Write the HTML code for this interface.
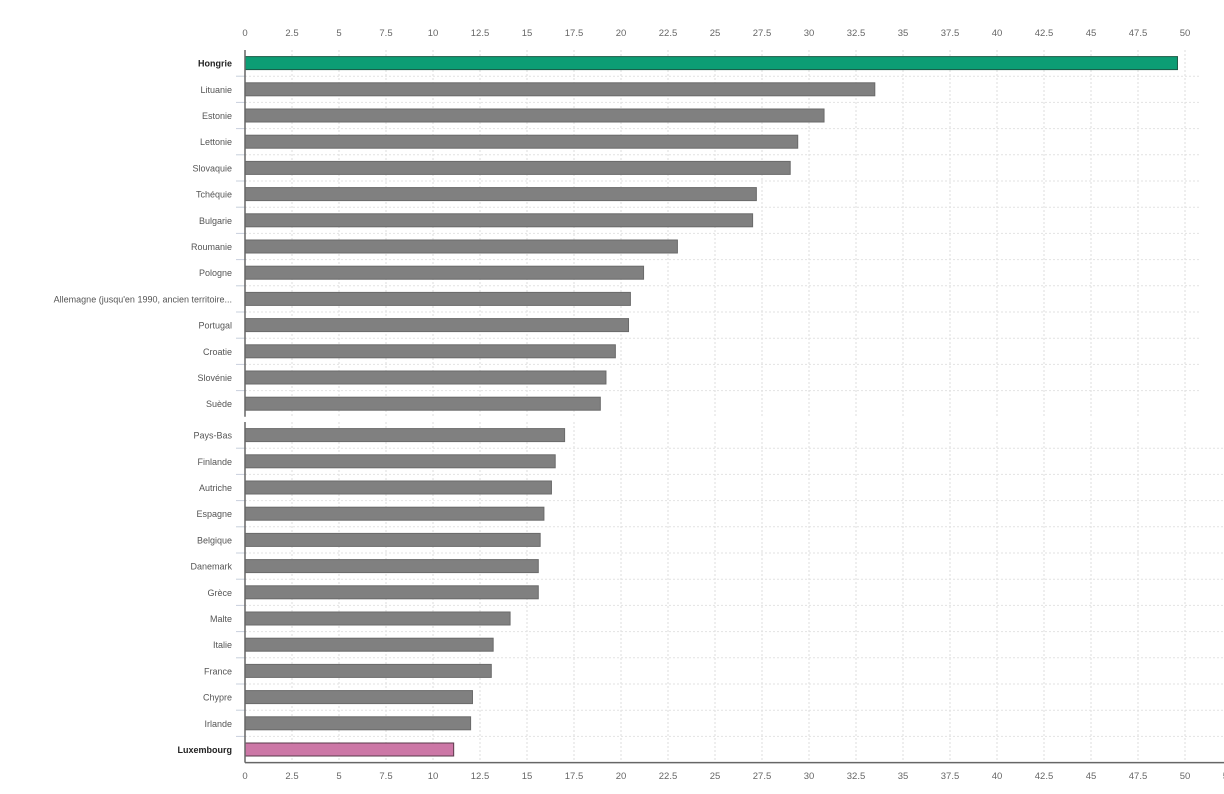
<!DOCTYPE html><html><head><meta charset="utf-8"><style>body{margin:0;background:#fff}svg{display:block;font-family:"Liberation Sans",sans-serif}</style></head><body>
<svg width="1224" height="794" xmlns="http://www.w3.org/2000/svg" id="s"></svg>
<script>
(function(){
var s=document.getElementById('s');var h='';
function X(v){return 245+v*18.8;}
var rowsA=[["Hongrie",49.6],["Lituanie",33.5],["Estonie",30.8],["Lettonie",29.4],["Slovaquie",29.0],["Tchéquie",27.2],["Bulgarie",27.0],["Roumanie",23.0],["Pologne",21.2],["Allemagne (jusqu'en 1990, ancien territoire...",20.5],["Portugal",20.4],["Croatie",19.7],["Slovénie",19.2],["Suède",18.9]];
var rowsB=[["Pays-Bas",17.0],["Finlande",16.5],["Autriche",16.3],["Espagne",15.9],["Belgique",15.7],["Danemark",15.6],["Grèce",15.6],["Malte",14.1],["Italie",13.2],["France",13.1],["Chypre",12.1],["Irlande",12.0],["Luxembourg",11.1]];
function panel(rows,y0,xr,maxT){var bh=26.2,y1=y0+rows.length*bh;
for(var t=0;t<=maxT;t+=2.5){var x=X(t);if(x<=xr)h+='<line x1="'+x+'" y1="'+y0+'" x2="'+x+'" y2="'+y1+'" stroke="#ddd" stroke-dasharray="2,2"/>';}
rows.forEach(function(r,i){var yb=y0+(i+1)*bh;if(i<rows.length-1)h+='<line x1="245" y1="'+yb+'" x2="'+xr+'" y2="'+yb+'" stroke="#e2e2e2" stroke-dasharray="2,2"/><line x1="236" y1="'+yb+'" x2="245" y2="'+yb+'" stroke="#c8d0dc"/>';
var cy=y0+i*bh+bh/2;var f="#808080",st="#6a6a6a",b=false;if(r[0]=="Hongrie"){f="#0c9d74";st="#1a5a45";b=true}if(r[0]=="Luxembourg"){f="#cc77a6";st="#5a3a4a";b=true}
h+='<rect x="245" y="'+(cy-6.5)+'" width="'+(X(r[1])-245)+'" height="13" fill="'+f+'" stroke="'+st+'" stroke-width="1"/>';
h+='<text x="232" y="'+(cy+3.5)+'" font-size="9" text-anchor="end" fill="'+(b?'#222':'#555')+'"'+(b?' font-weight="bold"':'')+'>'+r[0]+'</text>';});
h+='<line x1="245" y1="'+y0+'" x2="245" y2="'+y1+'" stroke="#666" stroke-width="1.5"/>';return y1;}
panel(rowsA,50,1200,50);
var yb=panel(rowsB,422,1224,52.5);
h+='<line x1="245" y1="'+yb+'" x2="1224" y2="'+yb+'" stroke="#666" stroke-width="1.5"/>';
for(var t=0;t<=52.5;t+=2.5){var x=X(t);if(t<=50)h+='<text x="'+x+'" y="36" font-size="9.5" text-anchor="middle" fill="#666">'+t+'</text>';h+='<text x="'+x+'" y="779" font-size="9.5" text-anchor="middle" fill="#666">'+t+'</text>';}
s.innerHTML=h;
})();
</script></body></html>
